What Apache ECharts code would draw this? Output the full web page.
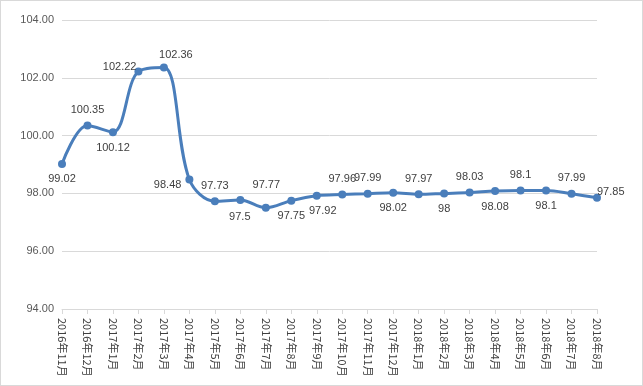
<!DOCTYPE html>
<html><head><meta charset="utf-8">
<script src="https://cdn.jsdelivr.net/npm/echarts@6/dist/echarts.min.js"></script>
<style>html,body{margin:0;padding:0;background:#fff;}#c{position:absolute;left:0;top:0;width:641px;height:384px;border:1px solid #d9d9d9;}</style>
</head><body><div id="c"></div>
<script>
var categories = ['2016年11月','2016年12月','2017年1月','2017年2月','2017年3月','2017年4月','2017年5月','2017年6月','2017年7月','2017年8月','2017年9月','2017年10月','2017年11月','2017年12月','2018年1月','2018年2月','2018年3月','2018年4月','2018年5月','2018年6月','2018年7月','2018年8月'];
var values = [99.02,100.35,100.12,102.22,102.36,98.48,97.73,97.77,97.5,97.75,97.92,97.96,97.99,98.02,97.97,98,98.03,98.08,98.1,98.1,97.99,97.85];
var labelPos = ['bottom','top','bottom','left','top','left','top','top','bottom','bottom','bottom','top','top','bottom','top','bottom','top','bottom','top','bottom','top','right'];
var labelOffset = [[0,0],[0,0],[0,0],[8,-4],[12,3],[2,5],[0,0],[26,0],[-26,-6],[0,0],[6,0],[0,0],[0,0],[0,0],[0,0],[0,0],[0,0],[0,0],[0,0],[0,0],[0,0],[-10,-6]];
var yTicks = [94,104,2];
var chart = echarts.init(document.getElementById('c'));
chart.setOption({
  animation:false,
  grid:{left:61,right:45,top:19,bottom:76},
  xAxis:{type:'category',data:categories,boundaryGap:false,
    axisLine:{lineStyle:{color:'#d9d9d9'}},
    axisTick:{show:true,lineStyle:{color:'#d9d9d9'}},
    axisLabel:{rotate:-90,interval:0,color:'#404040',fontSize:11,fontFamily:'Noto Sans CJK SC',margin:9}},
  yAxis:{type:'value',min:yTicks[0],max:yTicks[1],interval:yTicks[2],
    axisLine:{show:false},axisTick:{show:false},
    splitLine:{lineStyle:{color:'#d9d9d9'}},
    axisLabel:{formatter:function(v){return v.toFixed(2);},color:'#595959',fontSize:11,fontFamily:'Liberation Sans',margin:8}},
  series:[{type:'line',smooth:0.35,data:values.map(function(v,i){return {value:v,label:{position:labelPos[i],offset:labelOffset[i]}};}),
    symbol:'circle',symbolSize:8,
    lineStyle:{color:'#4a7ebb',width:3},
    itemStyle:{color:'#4a7ebb'},
    label:{show:true,color:'#404040',fontSize:11,fontFamily:'Liberation Sans',distance:6}}]
});
</script></body></html>
